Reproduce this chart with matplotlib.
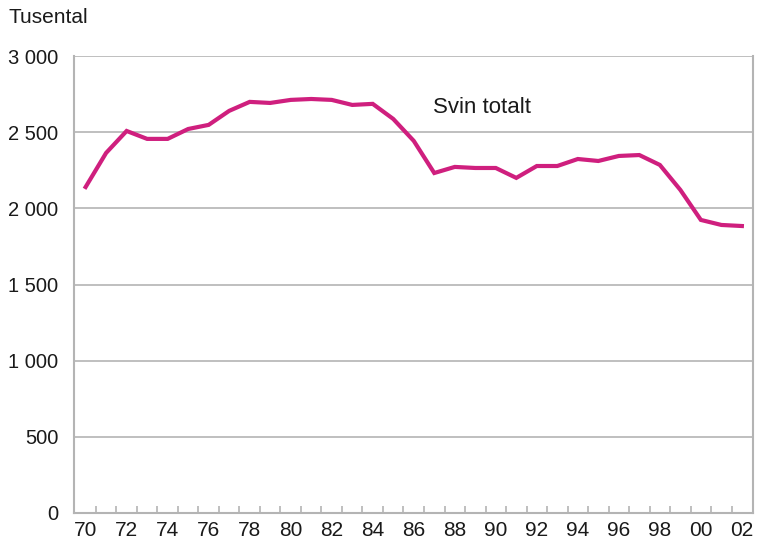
import matplotlib.pyplot as plt
import numpy as np

plt.rcParams['font.family'] = ['Liberation Sans', 'DejaVu Sans']

years = list(range(1970, 2003))
svin = [2140, 2364, 2508, 2456, 2456, 2521, 2548, 2640, 2699, 2692,
        2712, 2718, 2712, 2679, 2686, 2587, 2443, 2232, 2272, 2265,
        2265, 2200, 2278, 2278, 2324, 2311, 2344, 2350, 2285, 2121,
        1924, 1891, 1884]
yticks = [0, 500, 1000, 1500, 2000, 2500, 3000]
ytick_labels = ['0', '500', '1 000', '1 500', '2 000', '2 500', '3 000']

grid_col = '#b4b4b4'
line_col = '#cf1f7e'
text_col = '#1a1a1a'

fig = plt.figure(figsize=(7.6, 5.44), dpi=100)
ax = fig.add_axes([0.097, 0.057, 0.894, 0.84])

x = np.arange(len(years))
ax.plot(x, svin, color=line_col, lw=3.0, solid_joinstyle='miter', zorder=3)

ax.set_xlim(-0.58, len(years) - 0.45)
ax.set_ylim(0, 3000)

ax.set_yticks(yticks)
ax.set_yticklabels(ytick_labels)
ax.yaxis.grid(True, color=grid_col, lw=1.2)
ax.tick_params(axis='y', length=0, pad=11, labelsize=14.5, colors=text_col)

ax.set_xticks(x[::2])
ax.set_xticklabels([str(y)[2:] for y in years[::2]])
ax.set_xticks(x[:-1] + 0.5, minor=True)
ax.tick_params(axis='x', which='major', length=0, pad=6, labelsize=15, colors=text_col)
ax.tick_params(axis='x', which='minor', direction='in', length=5, width=1.2, color=grid_col)

for side in ['left', 'bottom', 'right']:
    ax.spines[side].set_color(grid_col)
    ax.spines[side].set_linewidth(1.5)
ax.spines['top'].set_visible(False)

ax.text(16.95, 2660, 'Svin totalt', fontsize=16, color=text_col, ha='left', va='center')
fig.text(0.011, 0.968, 'Tusental', fontsize=15, color=text_col, ha='left', va='center')

fig.savefig('out.png', dpi=100)
